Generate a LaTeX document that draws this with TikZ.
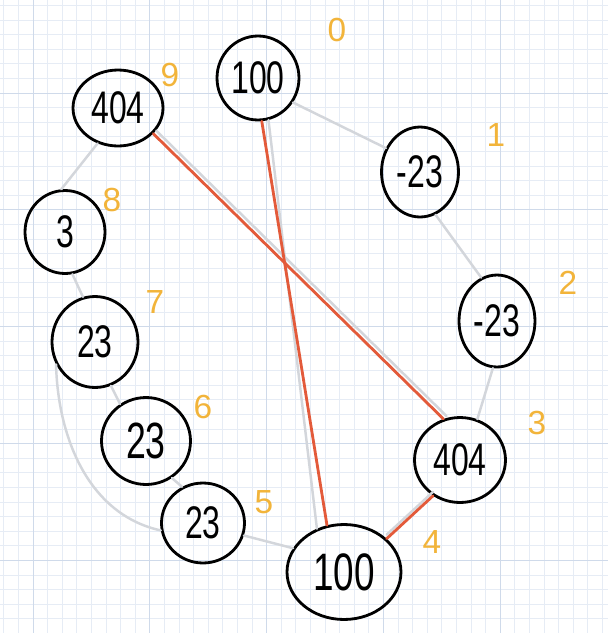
\documentclass[tikz,border=0pt]{standalone}
\usepackage{fontspec}
\usetikzlibrary{shapes.geometric}
\newfontfamily\hand[FakeStretch=0.7]{Liberation Sans}
\newfontfamily\handlab{Liberation Sans}
\definecolor{gridminor}{HTML}{E6ECF5}
\definecolor{gridmajor}{HTML}{CFDAEA}
\definecolor{edgegrey}{HTML}{D3D6DB}
\definecolor{edgered}{HTML}{E35A3A}
\definecolor{idxorange}{HTML}{F2B43A}
\tikzset{
  minorline/.style={draw=gridminor, line width=0.35pt},
  majorline/.style={draw=gridmajor, line width=0.5pt},
  cell/.style={ellipse, draw=black, line width=1.6pt, inner sep=0pt,
    font=\hand\fontsize{26}{26}\selectfont},
  idx/.style={text=idxorange, font=\handlab\fontsize{19}{19}\selectfont, inner sep=0pt},
  greyedge/.style={draw=edgegrey, line width=1.4pt, line cap=round},
  rededge/.style={draw=edgered, line width=1.6pt, line cap=round},
}
\begin{document}
\begin{tikzpicture}[x=0.02cm, y=-0.02cm]
\useasboundingbox (0,0) rectangle (608,633);
\fill[white] (0,0) rectangle (608,633);
% grid
\foreach \i in {0,...,41} {
  \draw[minorline] ({3.8+\i*14.6},0) -- ({3.8+\i*14.6},633);
}
\foreach \i in {0,...,43} {
  \draw[minorline] (0,{5.4+\i*14.6}) -- (608,{5.4+\i*14.6});
}
\foreach \i in {0,...,4} {
  \draw[majorline] ({33+\i*116.8},0) -- ({33+\i*116.8},633);
  \draw[majorline] (0,{93+\i*116.8}) -- (608,{93+\i*116.8});
}
% nodes
\node[cell, minimum width=1.64cm, minimum height=1.68cm] (n0) at (258,78) {100};
\node[cell, minimum width=1.54cm, minimum height=1.80cm] (n1) at (420,172) {-23};
\node[cell, minimum width=1.52cm, minimum height=1.84cm] (n2) at (497,321) {-23};
\node[cell, minimum width=1.82cm, minimum height=1.70cm] (n3) at (460,460) {404};
\node[cell, minimum width=2.28cm, minimum height=1.90cm, font=\hand\fontsize{30}{30}\selectfont] (n4) at (344,572) {100};
\node[cell, minimum width=1.66cm, minimum height=1.60cm] (n5) at (203,523) {23};
\node[cell, minimum width=1.78cm, minimum height=1.74cm, font=\hand\fontsize{29}{29}\selectfont] (n6) at (146,441) {23};
\node[cell, minimum width=1.72cm, minimum height=1.82cm] (n7) at (95,342) {23};
\node[cell, minimum width=1.60cm, minimum height=1.66cm] (n8) at (65,232) {3};
\node[cell, minimum width=1.80cm, minimum height=1.52cm] (n9) at (118,108) {404};
% index labels
\node[idx] (l0) at (337,30) {0};
\node[idx] (l1) at (496,135) {1};
\node[idx] (l2) at (568,283) {2};
\node[idx] (l3) at (537,423) {3};
\node[idx] (l4) at (432,542) {4};
\node[idx] (l5) at (264,502) {5};
\node[idx] (l6) at (203,407) {6};
\node[idx] (l7) at (155,302) {7};
\node[idx] (l8) at (112,200) {8};
\node[idx] (l9) at (170,75) {9};
% grey ring edges
\draw[greyedge] (n0.-35) -- (n1.145);
\draw[greyedge] (n1.-70) -- (n2.110);
\draw[greyedge] (n2.-95) -- (n3.67);
\draw[greyedge, transform canvas={shift={(0,-4)}}] (n3.-127) -- (n4.38);
\draw[greyedge] (n4.155) -- (n5.-17);
\draw[greyedge] (n5.120) -- (n6.-55);
\draw[greyedge] (n6.125) -- (n7.-70);
\draw[greyedge] (n7.105) -- (n8.-80);
\draw[greyedge] (n8.95) -- (n9.-120);
\draw[greyedge, transform canvas={shift={(3,-3)}}] (n9.-36) -- (n3.112);
\draw[greyedge] (n0.-76) -- (n4.122);
\draw[greyedge] (n7.-150) .. controls (58,440) and (90,515) .. (n5.-170);
% red edges
\draw[rededge] (n9.-36) -- (n3.112);
\draw[rededge] (n0.-85) -- (n4.110);
\draw[rededge] (n3.-127) -- (n4.38);
\end{tikzpicture}
\end{document}
